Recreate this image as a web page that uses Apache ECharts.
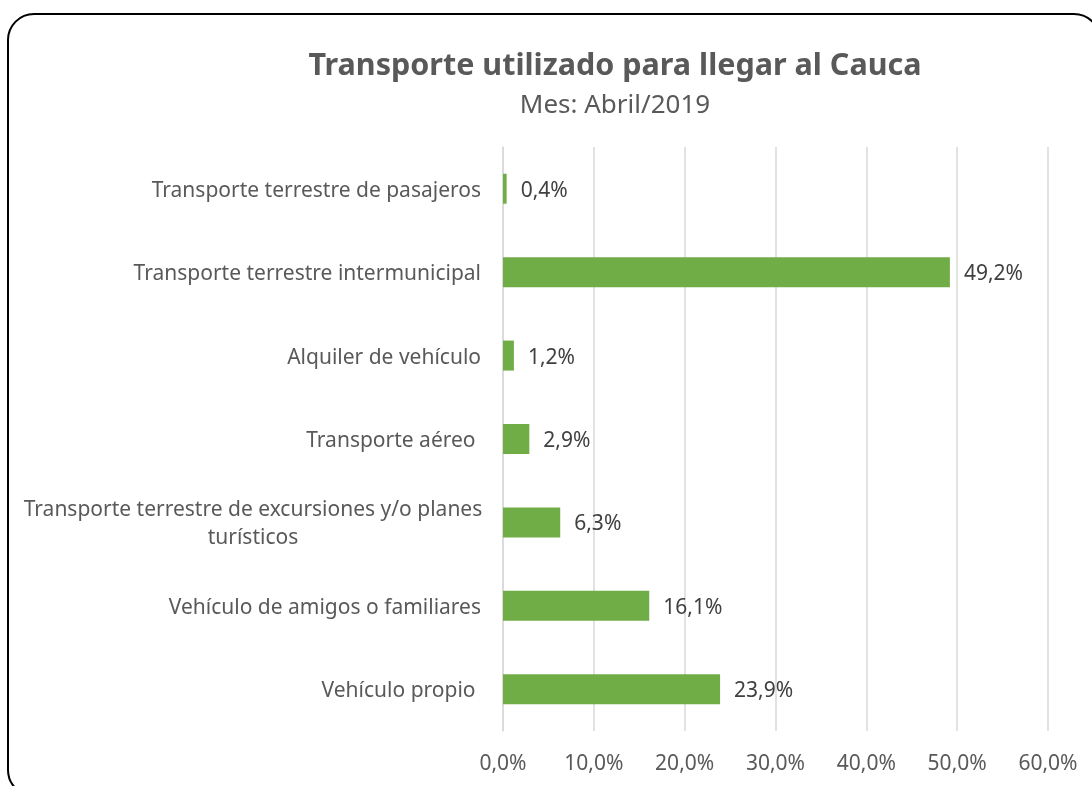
<!DOCTYPE html>
<html>
<head>
<meta charset="utf-8">
<script src="https://cdn.jsdelivr.net/npm/echarts@6/dist/echarts.min.js"></script>
<style>
  html, body { margin: 0; padding: 0; background: #fff; }
  #chartBox { width: 1092px; height: 786px; }
</style>
</head>
<body>
<div id="chartBox"></div>
<script>
// categorias de arriba hacia abajo
const categorias = [
  'Transporte terrestre de pasajeros',
  'Transporte terrestre intermunicipal',
  'Alquiler de vehículo',
  'Transporte aéreo ',
  'Transporte terrestre de excursiones y/o planes\nturísticos',
  'Vehículo de amigos o familiares',
  'Vehículo propio '
]
const porcentajes = [0.4, 49.2, 1.2, 2.9, 6.3, 16.1, 23.9]
const ticksX = [0, 10, 20, 30, 40, 50, 60]

const fmt = v => v.toFixed(1).replace('.', ',') + '%'
const fuente = 'Noto Sans'
const gris = '#595959'

let myChart = echarts.init(document.getElementById('chartBox'))
myChart.setOption({
  animation: false,
  textStyle: { fontFamily: fuente },
  graphic: [{
    type: 'rect',
    shape: { x: 8, y: 14, width: 1092, height: 782, r: 26 },
    style: { fill: 'none', stroke: '#000', lineWidth: 2 }
  }],
  title: {
    text: 'Transporte utilizado para llegar al Cauca',
    subtext: 'Mes: Abril/2019',
    left: 610,
    textAlign: 'center',
    top: 46,
    itemGap: 11,
    textStyle: { fontSize: 30.5, fontWeight: 'bold', color: gris, fontFamily: fuente },
    subtextStyle: { fontSize: 26, color: gris, fontFamily: fuente }
  },
  grid: { left: 503, right: 44, top: 147, bottom: 55 },
  xAxis: {
    type: 'value',
    min: ticksX[0],
    max: ticksX[ticksX.length - 1],
    interval: 10,
    axisLine: { show: false },
    axisTick: { show: false },
    splitLine: { lineStyle: { color: '#d9d9d9', width: 1.5 } },
    axisLabel: { formatter: fmt, fontSize: 21, color: gris, margin: 23 }
  },
  yAxis: {
    type: 'category',
    inverse: true,
    data: categorias,
    axisLine: { lineStyle: { color: '#d9d9d9', width: 1.5 } },
    axisTick: { show: false },
    axisLabel: {
      fontSize: 21,
      color: gris,
      margin: 22,
      lineHeight: 28,
      padding: [4, 0, 0, 0],
      formatter: v => v.indexOf('\n') >= 0
        ? v.split('\n').map(l => '{c|' + l + '}').join('\n')
        : v,
      rich: { c: { width: 456, align: 'center', fontSize: 21, color: gris, lineHeight: 28 } }
    }
  },
  series: [{
    type: 'bar',
    data: porcentajes,
    barWidth: 30,
    itemStyle: { color: '#70ad47' },
    label: {
      show: true,
      position: 'right',
      distance: 14,
      offset: [0, 2],
      formatter: p => fmt(p.value),
      fontSize: 21,
      color: '#404040'
    }
  }]
})
</script>
</body>
</html>
